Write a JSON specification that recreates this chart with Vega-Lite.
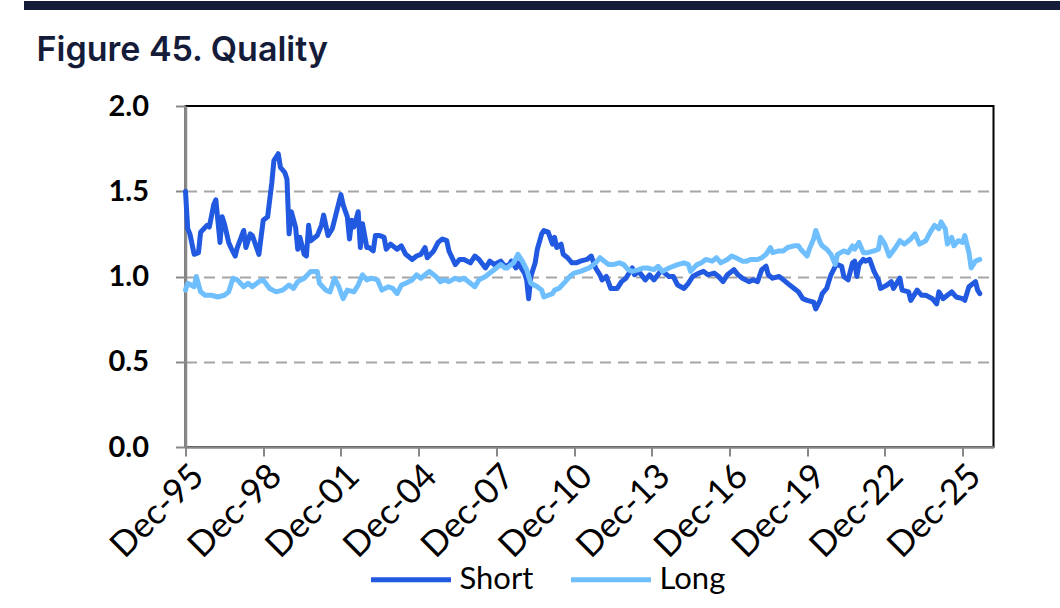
{
  "$schema": "https://vega.github.io/schema/vega-lite/v6.json",
  "background": "white",
  "padding": {"left": 17.5, "top": 0, "right": 0, "bottom": 0},
  "spacing": 23,
  "align": "none",
  "config": {"font": "Lato"},
  "vconcat": [
    {
      "width": 876,
      "height": 9,
      "data": {"values": []},
      "mark": "rule",
      "encoding": {
        "y": {
          "field": "v",
          "type": "quantitative",
          "scale": {"domain": [0, 1]},
          "axis": {
            "values": [0.5],
            "title": null,
            "labels": false,
            "domain": false,
            "grid": false,
            "offset": -880,
            "tickSize": 1042,
            "tickWidth": 9,
            "tickCap": "butt",
            "tickColor": "#141c3a"
          }
        }
      },
      "view": {"fill": null, "stroke": null}
    },
    {
      "width": 808,
      "height": 341,
      "view": {"stroke": "black", "strokeWidth": 2},
      "title": {
        "text": "Figure 45. Quality",
        "anchor": "start",
        "frame": "group",
        "dx": -149,
        "offset": 24,
        "font": "Inter",
        "fontSize": 34,
        "fontWeight": 600,
        "color": "#141c3a"
      },
      "data": {
        "values": [
          {"d": "1995-12", "s": "Short", "v": 1.5},
          {"d": "1996-01", "s": "Short", "v": 1.28},
          {"d": "1996-02", "s": "Short", "v": 1.25},
          {"d": "1996-04", "s": "Short", "v": 1.13},
          {"d": "1996-06", "s": "Short", "v": 1.14},
          {"d": "1996-07", "s": "Short", "v": 1.26},
          {"d": "1996-10", "s": "Short", "v": 1.3},
          {"d": "1996-11", "s": "Short", "v": 1.29},
          {"d": "1997-01", "s": "Short", "v": 1.42},
          {"d": "1997-02", "s": "Short", "v": 1.45},
          {"d": "1997-04", "s": "Short", "v": 1.2},
          {"d": "1997-05", "s": "Short", "v": 1.35},
          {"d": "1997-06", "s": "Short", "v": 1.31},
          {"d": "1997-08", "s": "Short", "v": 1.2},
          {"d": "1997-09", "s": "Short", "v": 1.17},
          {"d": "1997-11", "s": "Short", "v": 1.12},
          {"d": "1997-12", "s": "Short", "v": 1.17},
          {"d": "1998-03", "s": "Short", "v": 1.27},
          {"d": "1998-04", "s": "Short", "v": 1.17},
          {"d": "1998-06", "s": "Short", "v": 1.25},
          {"d": "1998-07", "s": "Short", "v": 1.24},
          {"d": "1998-10", "s": "Short", "v": 1.13},
          {"d": "1998-12", "s": "Short", "v": 1.33},
          {"d": "1999-02", "s": "Short", "v": 1.35},
          {"d": "1999-04", "s": "Short", "v": 1.55},
          {"d": "1999-05", "s": "Short", "v": 1.68},
          {"d": "1999-07", "s": "Short", "v": 1.72},
          {"d": "1999-08", "s": "Short", "v": 1.64},
          {"d": "1999-10", "s": "Short", "v": 1.61},
          {"d": "1999-11", "s": "Short", "v": 1.57},
          {"d": "1999-12", "s": "Short", "v": 1.25},
          {"d": "2000-01", "s": "Short", "v": 1.38},
          {"d": "2000-03", "s": "Short", "v": 1.29},
          {"d": "2000-04", "s": "Short", "v": 1.16},
          {"d": "2000-05", "s": "Short", "v": 1.23},
          {"d": "2000-07", "s": "Short", "v": 1.13},
          {"d": "2000-08", "s": "Short", "v": 1.12},
          {"d": "2000-09", "s": "Short", "v": 1.3},
          {"d": "2000-10", "s": "Short", "v": 1.21},
          {"d": "2000-12", "s": "Short", "v": 1.23},
          {"d": "2001-01", "s": "Short", "v": 1.24},
          {"d": "2001-03", "s": "Short", "v": 1.3},
          {"d": "2001-04", "s": "Short", "v": 1.36},
          {"d": "2001-06", "s": "Short", "v": 1.24},
          {"d": "2001-08", "s": "Short", "v": 1.28},
          {"d": "2001-10", "s": "Short", "v": 1.38},
          {"d": "2001-12", "s": "Short", "v": 1.48},
          {"d": "2002-01", "s": "Short", "v": 1.42},
          {"d": "2002-03", "s": "Short", "v": 1.35},
          {"d": "2002-04", "s": "Short", "v": 1.22},
          {"d": "2002-05", "s": "Short", "v": 1.33},
          {"d": "2002-06", "s": "Short", "v": 1.29},
          {"d": "2002-08", "s": "Short", "v": 1.38},
          {"d": "2002-09", "s": "Short", "v": 1.17},
          {"d": "2002-10", "s": "Short", "v": 1.31},
          {"d": "2002-12", "s": "Short", "v": 1.17},
          {"d": "2003-01", "s": "Short", "v": 1.17},
          {"d": "2003-03", "s": "Short", "v": 1.15},
          {"d": "2003-04", "s": "Short", "v": 1.24},
          {"d": "2003-06", "s": "Short", "v": 1.24},
          {"d": "2003-08", "s": "Short", "v": 1.23},
          {"d": "2003-09", "s": "Short", "v": 1.16},
          {"d": "2003-11", "s": "Short", "v": 1.19},
          {"d": "2004-02", "s": "Short", "v": 1.16},
          {"d": "2004-04", "s": "Short", "v": 1.18},
          {"d": "2004-06", "s": "Short", "v": 1.13},
          {"d": "2004-09", "s": "Short", "v": 1.1},
          {"d": "2004-11", "s": "Short", "v": 1.12},
          {"d": "2005-01", "s": "Short", "v": 1.13},
          {"d": "2005-03", "s": "Short", "v": 1.17},
          {"d": "2005-04", "s": "Short", "v": 1.11},
          {"d": "2005-07", "s": "Short", "v": 1.15},
          {"d": "2005-09", "s": "Short", "v": 1.2},
          {"d": "2005-11", "s": "Short", "v": 1.22},
          {"d": "2006-01", "s": "Short", "v": 1.21},
          {"d": "2006-02", "s": "Short", "v": 1.15},
          {"d": "2006-05", "s": "Short", "v": 1.07},
          {"d": "2006-07", "s": "Short", "v": 1.1},
          {"d": "2006-09", "s": "Short", "v": 1.1},
          {"d": "2006-12", "s": "Short", "v": 1.08},
          {"d": "2007-02", "s": "Short", "v": 1.12},
          {"d": "2007-04", "s": "Short", "v": 1.1},
          {"d": "2007-07", "s": "Short", "v": 1.05},
          {"d": "2007-09", "s": "Short", "v": 1.09},
          {"d": "2007-11", "s": "Short", "v": 1.07},
          {"d": "2008-02", "s": "Short", "v": 1.09},
          {"d": "2008-04", "s": "Short", "v": 1.06},
          {"d": "2008-06", "s": "Short", "v": 1.07},
          {"d": "2008-07", "s": "Short", "v": 1.09},
          {"d": "2008-09", "s": "Short", "v": 1.05},
          {"d": "2008-10", "s": "Short", "v": 1.08},
          {"d": "2008-12", "s": "Short", "v": 1.04},
          {"d": "2009-01", "s": "Short", "v": 1.02},
          {"d": "2009-02", "s": "Short", "v": 0.98},
          {"d": "2009-03", "s": "Short", "v": 0.87},
          {"d": "2009-04", "s": "Short", "v": 1.0},
          {"d": "2009-06", "s": "Short", "v": 1.08},
          {"d": "2009-07", "s": "Short", "v": 1.16},
          {"d": "2009-09", "s": "Short", "v": 1.25},
          {"d": "2009-10", "s": "Short", "v": 1.27},
          {"d": "2009-12", "s": "Short", "v": 1.26},
          {"d": "2010-02", "s": "Short", "v": 1.19},
          {"d": "2010-03", "s": "Short", "v": 1.23},
          {"d": "2010-04", "s": "Short", "v": 1.17},
          {"d": "2010-06", "s": "Short", "v": 1.19},
          {"d": "2010-07", "s": "Short", "v": 1.13},
          {"d": "2010-09", "s": "Short", "v": 1.11},
          {"d": "2010-11", "s": "Short", "v": 1.08},
          {"d": "2011-01", "s": "Short", "v": 1.08},
          {"d": "2011-03", "s": "Short", "v": 1.09},
          {"d": "2011-06", "s": "Short", "v": 1.1},
          {"d": "2011-08", "s": "Short", "v": 1.12},
          {"d": "2011-10", "s": "Short", "v": 1.05},
          {"d": "2011-12", "s": "Short", "v": 1.01},
          {"d": "2012-01", "s": "Short", "v": 0.98},
          {"d": "2012-03", "s": "Short", "v": 1.0},
          {"d": "2012-05", "s": "Short", "v": 0.93},
          {"d": "2012-08", "s": "Short", "v": 0.93},
          {"d": "2012-10", "s": "Short", "v": 0.97},
          {"d": "2012-12", "s": "Short", "v": 0.99},
          {"d": "2013-03", "s": "Short", "v": 1.05},
          {"d": "2013-04", "s": "Short", "v": 1.01},
          {"d": "2013-06", "s": "Short", "v": 1.03},
          {"d": "2013-09", "s": "Short", "v": 0.98},
          {"d": "2013-11", "s": "Short", "v": 1.01},
          {"d": "2014-01", "s": "Short", "v": 0.98},
          {"d": "2014-04", "s": "Short", "v": 1.03},
          {"d": "2014-05", "s": "Short", "v": 1.03},
          {"d": "2014-08", "s": "Short", "v": 1.0},
          {"d": "2014-10", "s": "Short", "v": 1.0},
          {"d": "2014-12", "s": "Short", "v": 0.95},
          {"d": "2015-03", "s": "Short", "v": 0.93},
          {"d": "2015-05", "s": "Short", "v": 0.96},
          {"d": "2015-07", "s": "Short", "v": 1.0},
          {"d": "2015-10", "s": "Short", "v": 1.02},
          {"d": "2015-12", "s": "Short", "v": 1.03},
          {"d": "2016-02", "s": "Short", "v": 1.01},
          {"d": "2016-05", "s": "Short", "v": 1.02},
          {"d": "2016-07", "s": "Short", "v": 1.0},
          {"d": "2016-09", "s": "Short", "v": 0.97},
          {"d": "2016-11", "s": "Short", "v": 1.01},
          {"d": "2017-02", "s": "Short", "v": 1.04},
          {"d": "2017-04", "s": "Short", "v": 1.01},
          {"d": "2017-06", "s": "Short", "v": 0.99},
          {"d": "2017-09", "s": "Short", "v": 0.97},
          {"d": "2017-11", "s": "Short", "v": 0.98},
          {"d": "2018-01", "s": "Short", "v": 0.97},
          {"d": "2018-03", "s": "Short", "v": 1.04},
          {"d": "2018-05", "s": "Short", "v": 1.06},
          {"d": "2018-06", "s": "Short", "v": 1.01},
          {"d": "2018-08", "s": "Short", "v": 0.99},
          {"d": "2018-11", "s": "Short", "v": 1.0},
          {"d": "2019-01", "s": "Short", "v": 0.98},
          {"d": "2019-03", "s": "Short", "v": 0.96},
          {"d": "2019-06", "s": "Short", "v": 0.93},
          {"d": "2019-08", "s": "Short", "v": 0.91},
          {"d": "2019-10", "s": "Short", "v": 0.87},
          {"d": "2019-12", "s": "Short", "v": 0.86},
          {"d": "2020-03", "s": "Short", "v": 0.85},
          {"d": "2020-04", "s": "Short", "v": 0.81},
          {"d": "2020-06", "s": "Short", "v": 0.86},
          {"d": "2020-07", "s": "Short", "v": 0.9},
          {"d": "2020-09", "s": "Short", "v": 0.93},
          {"d": "2020-10", "s": "Short", "v": 0.97},
          {"d": "2020-11", "s": "Short", "v": 1.01},
          {"d": "2021-01", "s": "Short", "v": 1.06},
          {"d": "2021-02", "s": "Short", "v": 1.07},
          {"d": "2021-04", "s": "Short", "v": 1.06},
          {"d": "2021-05", "s": "Short", "v": 1.0},
          {"d": "2021-07", "s": "Short", "v": 0.98},
          {"d": "2021-09", "s": "Short", "v": 1.08},
          {"d": "2021-10", "s": "Short", "v": 1.09},
          {"d": "2021-11", "s": "Short", "v": 1.0},
          {"d": "2021-12", "s": "Short", "v": 1.07},
          {"d": "2022-02", "s": "Short", "v": 1.1},
          {"d": "2022-03", "s": "Short", "v": 1.09},
          {"d": "2022-05", "s": "Short", "v": 1.1},
          {"d": "2022-07", "s": "Short", "v": 1.03},
          {"d": "2022-09", "s": "Short", "v": 0.98},
          {"d": "2022-10", "s": "Short", "v": 0.93},
          {"d": "2023-01", "s": "Short", "v": 0.95},
          {"d": "2023-03", "s": "Short", "v": 0.97},
          {"d": "2023-04", "s": "Short", "v": 0.93},
          {"d": "2023-07", "s": "Short", "v": 0.99},
          {"d": "2023-08", "s": "Short", "v": 0.92},
          {"d": "2023-11", "s": "Short", "v": 0.91},
          {"d": "2023-12", "s": "Short", "v": 0.86},
          {"d": "2024-03", "s": "Short", "v": 0.92},
          {"d": "2024-05", "s": "Short", "v": 0.89},
          {"d": "2024-07", "s": "Short", "v": 0.89},
          {"d": "2024-10", "s": "Short", "v": 0.87},
          {"d": "2024-12", "s": "Short", "v": 0.84},
          {"d": "2025-01", "s": "Short", "v": 0.91},
          {"d": "2025-03", "s": "Short", "v": 0.87},
          {"d": "2025-05", "s": "Short", "v": 0.89},
          {"d": "2025-07", "s": "Short", "v": 0.91},
          {"d": "2025-09", "s": "Short", "v": 0.88},
          {"d": "2025-12", "s": "Short", "v": 0.87},
          {"d": "2026-01", "s": "Short", "v": 0.86},
          {"d": "2026-03", "s": "Short", "v": 0.94},
          {"d": "2026-04", "s": "Short", "v": 0.95},
          {"d": "2026-06", "s": "Short", "v": 0.97},
          {"d": "2026-07", "s": "Short", "v": 0.92},
          {"d": "2026-08", "s": "Short", "v": 0.9},
          {"d": "1995-12", "s": "Long", "v": 0.92},
          {"d": "1996-01", "s": "Long", "v": 0.96},
          {"d": "1996-04", "s": "Long", "v": 0.94},
          {"d": "1996-05", "s": "Long", "v": 1.0},
          {"d": "1996-07", "s": "Long", "v": 0.91},
          {"d": "1996-09", "s": "Long", "v": 0.89},
          {"d": "1996-12", "s": "Long", "v": 0.89},
          {"d": "1997-03", "s": "Long", "v": 0.88},
          {"d": "1997-06", "s": "Long", "v": 0.89},
          {"d": "1997-08", "s": "Long", "v": 0.91},
          {"d": "1997-10", "s": "Long", "v": 0.99},
          {"d": "1997-12", "s": "Long", "v": 0.98},
          {"d": "1998-03", "s": "Long", "v": 0.94},
          {"d": "1998-05", "s": "Long", "v": 0.96},
          {"d": "1998-07", "s": "Long", "v": 0.94},
          {"d": "1998-10", "s": "Long", "v": 0.97},
          {"d": "1998-12", "s": "Long", "v": 0.98},
          {"d": "1999-03", "s": "Long", "v": 0.93},
          {"d": "1999-06", "s": "Long", "v": 0.91},
          {"d": "1999-09", "s": "Long", "v": 0.92},
          {"d": "1999-12", "s": "Long", "v": 0.95},
          {"d": "2000-02", "s": "Long", "v": 0.93},
          {"d": "2000-04", "s": "Long", "v": 0.97},
          {"d": "2000-07", "s": "Long", "v": 0.99},
          {"d": "2000-10", "s": "Long", "v": 1.03},
          {"d": "2001-01", "s": "Long", "v": 1.03},
          {"d": "2001-02", "s": "Long", "v": 0.96},
          {"d": "2001-05", "s": "Long", "v": 0.92},
          {"d": "2001-07", "s": "Long", "v": 0.91},
          {"d": "2001-09", "s": "Long", "v": 0.99},
          {"d": "2001-11", "s": "Long", "v": 0.94},
          {"d": "2002-01", "s": "Long", "v": 0.87},
          {"d": "2002-03", "s": "Long", "v": 0.92},
          {"d": "2002-06", "s": "Long", "v": 0.91},
          {"d": "2002-08", "s": "Long", "v": 0.95},
          {"d": "2002-10", "s": "Long", "v": 1.01},
          {"d": "2002-12", "s": "Long", "v": 0.98},
          {"d": "2003-02", "s": "Long", "v": 0.99},
          {"d": "2003-05", "s": "Long", "v": 0.98},
          {"d": "2003-07", "s": "Long", "v": 0.92},
          {"d": "2003-10", "s": "Long", "v": 0.94},
          {"d": "2003-12", "s": "Long", "v": 0.93},
          {"d": "2004-02", "s": "Long", "v": 0.9},
          {"d": "2004-04", "s": "Long", "v": 0.95},
          {"d": "2004-06", "s": "Long", "v": 0.96},
          {"d": "2004-09", "s": "Long", "v": 0.98},
          {"d": "2004-11", "s": "Long", "v": 1.01},
          {"d": "2005-01", "s": "Long", "v": 0.99},
          {"d": "2005-03", "s": "Long", "v": 1.01},
          {"d": "2005-05", "s": "Long", "v": 1.03},
          {"d": "2005-08", "s": "Long", "v": 1.0},
          {"d": "2005-10", "s": "Long", "v": 0.97},
          {"d": "2005-12", "s": "Long", "v": 0.98},
          {"d": "2006-02", "s": "Long", "v": 0.97},
          {"d": "2006-05", "s": "Long", "v": 0.99},
          {"d": "2006-07", "s": "Long", "v": 0.98},
          {"d": "2006-09", "s": "Long", "v": 0.99},
          {"d": "2006-12", "s": "Long", "v": 0.96},
          {"d": "2007-02", "s": "Long", "v": 0.94},
          {"d": "2007-04", "s": "Long", "v": 0.98},
          {"d": "2007-07", "s": "Long", "v": 1.0},
          {"d": "2007-09", "s": "Long", "v": 1.02},
          {"d": "2007-11", "s": "Long", "v": 1.04},
          {"d": "2008-02", "s": "Long", "v": 1.07},
          {"d": "2008-04", "s": "Long", "v": 1.05},
          {"d": "2008-05", "s": "Long", "v": 1.05},
          {"d": "2008-08", "s": "Long", "v": 1.08},
          {"d": "2008-10", "s": "Long", "v": 1.13},
          {"d": "2008-12", "s": "Long", "v": 1.09},
          {"d": "2009-02", "s": "Long", "v": 1.04},
          {"d": "2009-04", "s": "Long", "v": 0.96},
          {"d": "2009-07", "s": "Long", "v": 0.94},
          {"d": "2009-09", "s": "Long", "v": 0.92},
          {"d": "2009-10", "s": "Long", "v": 0.88},
          {"d": "2009-12", "s": "Long", "v": 0.89},
          {"d": "2010-02", "s": "Long", "v": 0.9},
          {"d": "2010-03", "s": "Long", "v": 0.92},
          {"d": "2010-05", "s": "Long", "v": 0.93},
          {"d": "2010-08", "s": "Long", "v": 0.97},
          {"d": "2010-10", "s": "Long", "v": 1.0},
          {"d": "2010-12", "s": "Long", "v": 1.02},
          {"d": "2011-03", "s": "Long", "v": 1.03},
          {"d": "2011-05", "s": "Long", "v": 1.04},
          {"d": "2011-07", "s": "Long", "v": 1.05},
          {"d": "2011-10", "s": "Long", "v": 1.08},
          {"d": "2011-12", "s": "Long", "v": 1.11},
          {"d": "2012-02", "s": "Long", "v": 1.09},
          {"d": "2012-04", "s": "Long", "v": 1.07},
          {"d": "2012-06", "s": "Long", "v": 1.07},
          {"d": "2012-09", "s": "Long", "v": 1.08},
          {"d": "2012-11", "s": "Long", "v": 1.07},
          {"d": "2013-01", "s": "Long", "v": 1.04},
          {"d": "2013-03", "s": "Long", "v": 1.03},
          {"d": "2013-06", "s": "Long", "v": 1.04},
          {"d": "2013-08", "s": "Long", "v": 1.05},
          {"d": "2013-10", "s": "Long", "v": 1.05},
          {"d": "2014-01", "s": "Long", "v": 1.04},
          {"d": "2014-03", "s": "Long", "v": 1.06},
          {"d": "2014-05", "s": "Long", "v": 1.03},
          {"d": "2014-08", "s": "Long", "v": 1.05},
          {"d": "2014-10", "s": "Long", "v": 1.06},
          {"d": "2014-12", "s": "Long", "v": 1.07},
          {"d": "2015-03", "s": "Long", "v": 1.08},
          {"d": "2015-05", "s": "Long", "v": 1.07},
          {"d": "2015-06", "s": "Long", "v": 1.03},
          {"d": "2015-09", "s": "Long", "v": 1.07},
          {"d": "2015-11", "s": "Long", "v": 1.08},
          {"d": "2016-01", "s": "Long", "v": 1.1},
          {"d": "2016-04", "s": "Long", "v": 1.09},
          {"d": "2016-06", "s": "Long", "v": 1.11},
          {"d": "2016-08", "s": "Long", "v": 1.08},
          {"d": "2016-11", "s": "Long", "v": 1.1},
          {"d": "2017-01", "s": "Long", "v": 1.12},
          {"d": "2017-03", "s": "Long", "v": 1.11},
          {"d": "2017-06", "s": "Long", "v": 1.09},
          {"d": "2017-08", "s": "Long", "v": 1.09},
          {"d": "2017-10", "s": "Long", "v": 1.1},
          {"d": "2018-01", "s": "Long", "v": 1.1},
          {"d": "2018-03", "s": "Long", "v": 1.11},
          {"d": "2018-05", "s": "Long", "v": 1.13},
          {"d": "2018-07", "s": "Long", "v": 1.17},
          {"d": "2018-08", "s": "Long", "v": 1.14},
          {"d": "2018-11", "s": "Long", "v": 1.15},
          {"d": "2019-01", "s": "Long", "v": 1.15},
          {"d": "2019-03", "s": "Long", "v": 1.17},
          {"d": "2019-06", "s": "Long", "v": 1.18},
          {"d": "2019-08", "s": "Long", "v": 1.18},
          {"d": "2019-09", "s": "Long", "v": 1.16},
          {"d": "2019-12", "s": "Long", "v": 1.12},
          {"d": "2020-01", "s": "Long", "v": 1.16},
          {"d": "2020-03", "s": "Long", "v": 1.22},
          {"d": "2020-04", "s": "Long", "v": 1.27},
          {"d": "2020-06", "s": "Long", "v": 1.2},
          {"d": "2020-07", "s": "Long", "v": 1.18},
          {"d": "2020-09", "s": "Long", "v": 1.16},
          {"d": "2020-11", "s": "Long", "v": 1.13},
          {"d": "2021-01", "s": "Long", "v": 1.07},
          {"d": "2021-02", "s": "Long", "v": 1.13},
          {"d": "2021-05", "s": "Long", "v": 1.15},
          {"d": "2021-07", "s": "Long", "v": 1.14},
          {"d": "2021-09", "s": "Long", "v": 1.18},
          {"d": "2021-10", "s": "Long", "v": 1.16},
          {"d": "2021-12", "s": "Long", "v": 1.2},
          {"d": "2022-02", "s": "Long", "v": 1.14},
          {"d": "2022-04", "s": "Long", "v": 1.14},
          {"d": "2022-07", "s": "Long", "v": 1.15},
          {"d": "2022-09", "s": "Long", "v": 1.16},
          {"d": "2022-10", "s": "Long", "v": 1.23},
          {"d": "2022-12", "s": "Long", "v": 1.19},
          {"d": "2023-02", "s": "Long", "v": 1.12},
          {"d": "2023-05", "s": "Long", "v": 1.17},
          {"d": "2023-07", "s": "Long", "v": 1.21},
          {"d": "2023-09", "s": "Long", "v": 1.19},
          {"d": "2023-12", "s": "Long", "v": 1.22},
          {"d": "2024-02", "s": "Long", "v": 1.25},
          {"d": "2024-04", "s": "Long", "v": 1.19},
          {"d": "2024-07", "s": "Long", "v": 1.21},
          {"d": "2024-09", "s": "Long", "v": 1.26},
          {"d": "2024-11", "s": "Long", "v": 1.3},
          {"d": "2025-01", "s": "Long", "v": 1.28},
          {"d": "2025-02", "s": "Long", "v": 1.32},
          {"d": "2025-04", "s": "Long", "v": 1.28},
          {"d": "2025-05", "s": "Long", "v": 1.19},
          {"d": "2025-07", "s": "Long", "v": 1.23},
          {"d": "2025-08", "s": "Long", "v": 1.18},
          {"d": "2025-10", "s": "Long", "v": 1.21},
          {"d": "2025-12", "s": "Long", "v": 1.2},
          {"d": "2026-01", "s": "Long", "v": 1.24},
          {"d": "2026-03", "s": "Long", "v": 1.14},
          {"d": "2026-04", "s": "Long", "v": 1.05},
          {"d": "2026-06", "s": "Long", "v": 1.09},
          {"d": "2026-08", "s": "Long", "v": 1.1}
        ]
      },
      "mark": {"type": "line", "strokeWidth": 5, "strokeJoin": "round", "strokeCap": "round"},
      "encoding": {
        "x": {
          "field": "d",
          "type": "temporal",
          "title": null,
          "scale": {"domain": [{"year": 1995, "month": 12, "date": 1}, {"year": 2027, "month": 2, "date": 10}]},
          "axis": {
            "values": [
              {"year": 1995, "month": 12, "date": 1},
              {"year": 1998, "month": 12, "date": 1},
              {"year": 2001, "month": 12, "date": 1},
              {"year": 2004, "month": 12, "date": 1},
              {"year": 2007, "month": 12, "date": 1},
              {"year": 2010, "month": 12, "date": 1},
              {"year": 2013, "month": 12, "date": 1},
              {"year": 2016, "month": 12, "date": 1},
              {"year": 2019, "month": 12, "date": 1},
              {"year": 2022, "month": 12, "date": 1},
              {"year": 2025, "month": 12, "date": 1}
            ],
            "format": "%b-%y",
            "labelAngle": -45,
            "labelFont": "Lato",
            "labelFontSize": 35,
            "labelColor": "black",
            "labelPadding": 2,
            "labelOverlap": false,
            "labelBound": false,
            "labelFlush": false,
            "domainColor": "#888888",
            "domainWidth": 2.5,
            "tickColor": "#888888",
            "tickWidth": 2,
            "tickSize": 9,
            "grid": false
          }
        },
        "y": {
          "field": "v",
          "type": "quantitative",
          "title": ".",
          "scale": {"domain": [0, 2]},
          "axis": {
            "values": [0, 0.5, 1, 1.5, 2],
            "format": ".1f",
            "labelFont": "Lato",
            "labelFontSize": 29,
            "labelFontWeight": "bold",
            "labelColor": "black",
            "labelPadding": 27,
            "labelFlush": false,
            "titleColor": "#ffffff",
            "titleFontSize": 10,
            "titlePadding": 78.5,
            "domainColor": "#888888",
            "domainWidth": 2.5,
            "tickColor": "#888888",
            "tickWidth": 2,
            "tickSize": 10,
            "grid": true,
            "gridColor": "#a6a6a6",
            "gridDash": [11, 7],
            "gridWidth": 2,
            "gridOpacity": {"condition": {"test": "datum.value > 0 && datum.value < 2", "value": 1}, "value": 0}
          }
        },
        "color": {
          "field": "s",
          "type": "nominal",
          "scale": {"domain": ["Short", "Long"], "range": ["#2159e0", "#6fbfff"]},
          "legend": {
            "title": null,
            "orient": "none",
            "direction": "horizontal",
            "legendX": 183,
            "legendY": 537,
            "symbolType": "stroke",
            "symbolSize": 6400,
            "symbolStrokeWidth": 5,
            "labelFont": "Lato",
            "labelFontSize": 31,
            "labelColor": "black",
            "labelOffset": 6,
            "columnPadding": 27
          }
        }
      }
    }
  ]
}
